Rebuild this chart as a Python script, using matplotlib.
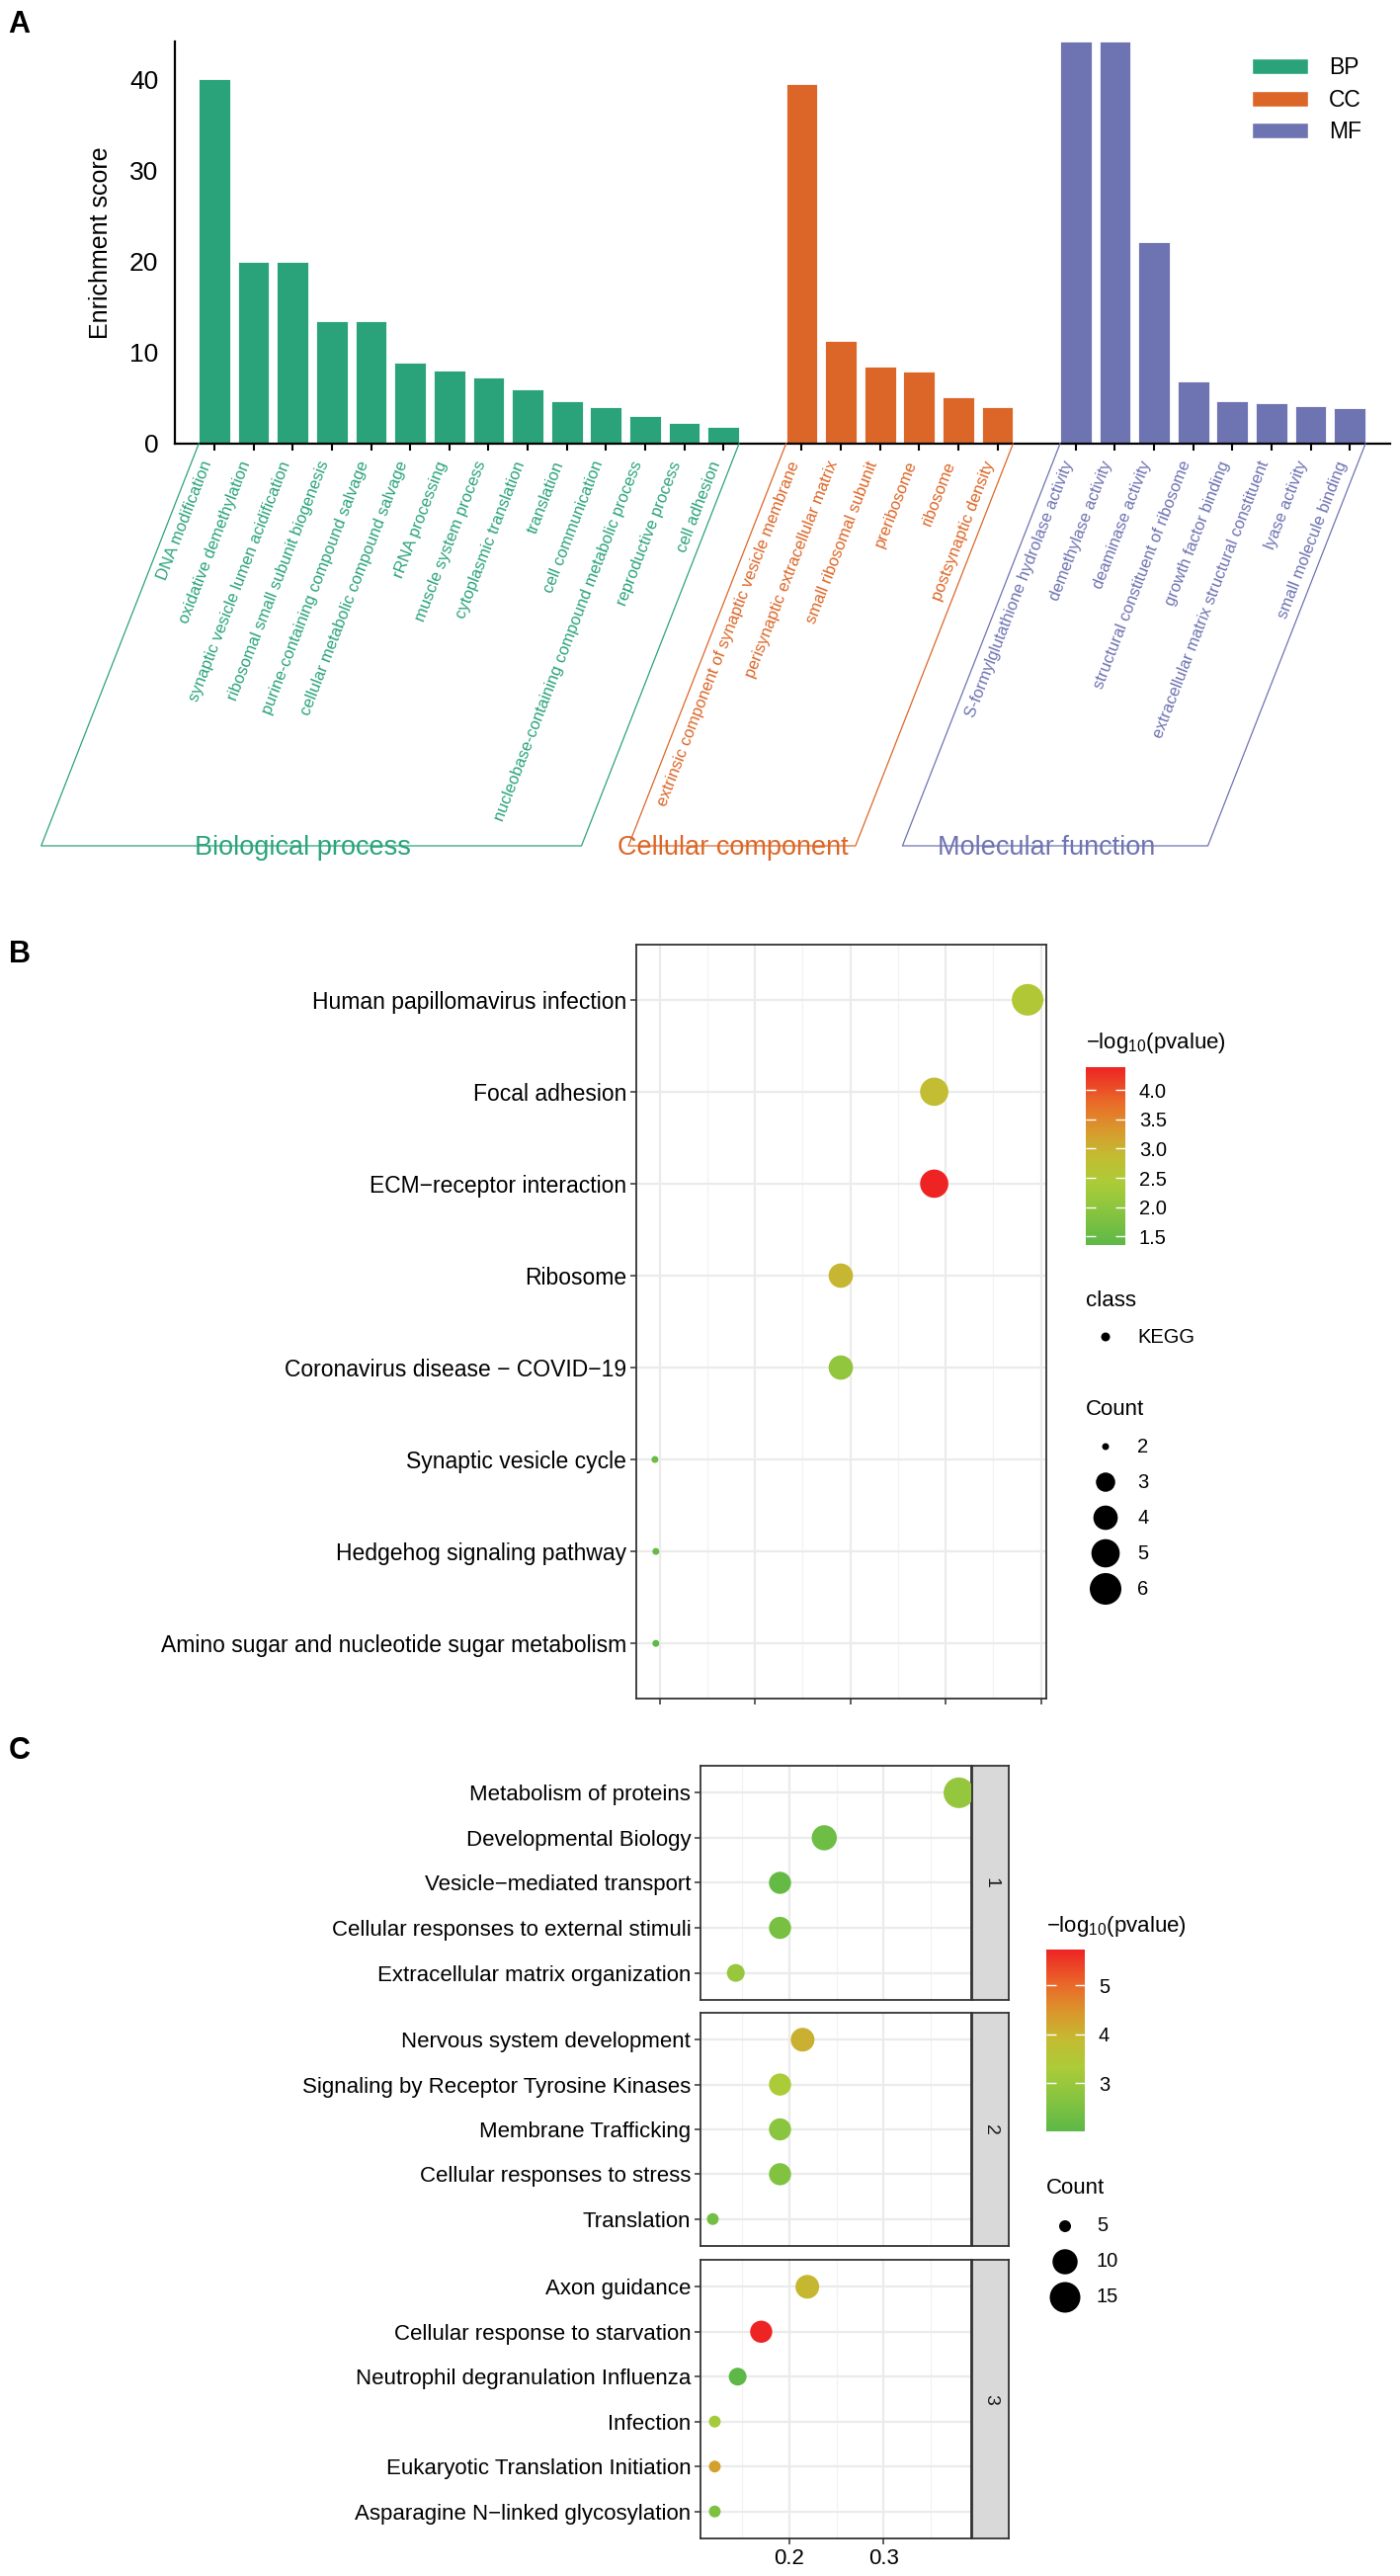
import numpy as np
import matplotlib
matplotlib.use("Agg")
import matplotlib.pyplot as plt
from matplotlib.patches import Patch
from matplotlib.lines import Line2D
from matplotlib.colors import LinearSegmentedColormap, Normalize
from matplotlib.cm import ScalarMappable

plt.rcParams['font.family'] = ['Liberation Sans', 'DejaVu Sans']
plt.rcParams['mathtext.default'] = 'regular'

W, H = 1417, 2607
fig = plt.figure(figsize=(W / 100, H / 100), dpi=100)

def rect(l, t, r, b):
    return [l / W, 1 - b / H, (r - l) / W, (b - t) / H]

# ---------------- data: panel A ----------------
bp_terms = ["DNA modification", "oxidative demethylation", "synaptic vesicle lumen acidification",
            "ribosomal small subunit biogenesis", "purine-containing compound salvage",
            "cellular metabolic compound salvage", "rRNA processing", "muscle system process",
            "cytoplasmic translation", "translation", "cell communication",
            "nucleobase-containing compound metabolic process", "reproductive process", "cell adhesion"]
bp_scores = [40.0, 20.0, 20.0, 13.4, 13.4, 8.9, 8.0, 7.3, 6.0, 4.7, 4.0, 3.0, 2.3, 1.8]
cc_terms = ["extrinsic component of synaptic vesicle membrane", "perisynaptic extracellular matrix",
            "small ribosomal subunit", "preribosome", "ribosome", "postsynaptic density"]
cc_scores = [39.5, 11.3, 8.5, 7.9, 5.1, 4.0]
mf_terms = ["S-formylglutathione hydrolase activity", "demethylase activity", "deaminase activity",
            "structural constituent of ribosome", "growth factor binding",
            "extracellular matrix structural constituent", "lyase activity", "small molecule binding"]
mf_scores = [44.1, 44.1, 22.1, 6.8, 4.7, 4.4, 4.1, 3.9]
go_groups = ["BP", "CC", "MF"]
go_group_titles = ["Biological process", "Cellular component", "Molecular function"]

# ---------------- data: panel B ----------------
kegg_terms = ["Human papillomavirus infection", "Focal adhesion", "ECM\u2212receptor interaction",
              "Ribosome", "Coronavirus disease \u2212 COVID\u221219", "Synaptic vesicle cycle",
              "Hedgehog signaling pathway", "Amino sugar and nucleotide sugar metabolism"]
kegg_ratio = [0.293, 0.244, 0.244, 0.195, 0.195, 0.0975, 0.098, 0.098]
kegg_logp = [2.55, 2.85, 4.39, 2.95, 2.05, 1.55, 1.45, 1.355]
kegg_count = [6, 5, 5, 4, 4, 2, 2, 2]
kegg_cb_ticks = [1.5, 2.0, 2.5, 3.0, 3.5, 4.0]
kegg_size_breaks = [2, 3, 4, 5, 6]

# ---------------- data: panel C ----------------
reac_terms = ["Metabolism of proteins", "Developmental Biology", "Vesicle\u2212mediated transport",
              "Cellular responses to external stimuli", "Extracellular matrix organization",
              "Nervous system development", "Signaling by Receptor Tyrosine Kinases",
              "Membrane Trafficking", "Cellular responses to stress", "Translation",
              "Axon guidance", "Cellular response to starvation", "Neutrophil degranulation Influenza",
              "Infection", "Eukaryotic Translation Initiation", "Asparagine N\u2212linked glycosylation"]
reac_cluster = [1, 1, 1, 1, 1, 2, 2, 2, 2, 2, 3, 3, 3, 3, 3, 3]
reac_ratio = [0.380, 0.237, 0.190, 0.190, 0.143, 0.214, 0.190, 0.190, 0.190, 0.1186,
              0.219, 0.170, 0.145, 0.1207, 0.1207, 0.1207]
reac_logp = [2.9, 2.3, 2.15, 2.45, 2.95, 4.05, 3.3, 2.75, 2.6, 2.4,
             3.95, 5.73, 2.01, 3.2, 4.3, 2.55]
reac_count = [15, 10, 8, 8, 6, 9, 8, 8, 8, 5, 9, 8, 6, 5, 5, 5]
reac_cb_ticks = [3, 4, 5]
reac_size_breaks = [5, 10, 15]

# ---------------- styles ----------------
go_colors = ["#2AA37B", "#DC6627", "#6E73B1"]
grad = LinearSegmentedColormap.from_list(
    "gr", [(0.0, "#5DB847"), (0.2, "#8BC53F"), (0.35, "#ACCB38"), (0.5, "#C3BC32"),
           (0.65, "#D9982C"), (0.8, "#E96B29"), (1.0, "#EE2424")])
GRID = "#EBEBEB"
BORDER = "#333333"

def gg_size(c, cmin, cmax, dmin, dmax):
    c = np.asarray(c, float)
    d = dmin + (dmax - dmin) * np.sqrt((c - cmin) / (cmax - cmin))
    return (d * 0.72) ** 2

def expand(vals, frac=0.05):
    lo, hi = min(vals), max(vals)
    r = hi - lo
    return lo - frac * r, hi + frac * r

# ================= Panel A =================
axA = fig.add_axes(rect(177, 42, 1407, 449))
groups = [(bp_terms, bp_scores), (cc_terms, cc_scores), (mf_terms, mf_scores)]
start = 0
group_pos = []
for terms, scores in groups:
    pos = np.arange(len(terms)) + start
    group_pos.append(pos)
    start = pos[-1] + 2
for gi, ((terms, scores), pos) in enumerate(zip(groups, group_pos)):
    axA.bar(pos, scores, width=0.8, color=go_colors[gi], edgecolor="white", linewidth=0.6,
            label=go_groups[gi], zorder=2)
axA.set_xlim(-1.01, 30.03)
axA.set_ylim(0, 44.15)
axA.spines[['top', 'right']].set_visible(False)
for s in ['left', 'bottom']:
    axA.spines[s].set_linewidth(1.6)
axA.set_yticks([0, 10, 20, 30, 40])
axA.tick_params(axis='y', length=0, pad=12, labelsize=19)
allpos = np.concatenate(group_pos)
axA.set_xticks(allpos)
axA.set_xticklabels([])
axA.tick_params(axis='x', length=5, width=1.5, direction='out')
axA.set_ylabel("Enrichment score", fontsize=18, labelpad=12)

ANG = 68.8
for gi, ((terms, scores), pos) in enumerate(zip(groups, group_pos)):
    for p, t in zip(pos, terms):
        axA.annotate(t, xy=(p, 0), xycoords=('data', 'axes fraction'), xytext=(-5, -13),
                     textcoords='offset points', rotation=ANG, rotation_mode='anchor',
                     ha='right', va='center', fontsize=12, color=go_colors[gi])

fig.canvas.draw()
y_axis_px = H - 449
y_bot_px = H - 856
dxs = (y_axis_px - y_bot_px) / np.tan(np.radians(68.6))
for gi, pos in enumerate(group_pos):
    xl = axA.transData.transform((pos[0] - 0.4, 0))[0]
    xr = axA.transData.transform((pos[-1] + 0.4, 0))[0]
    xs = np.array([xl, xl - dxs, xr - dxs, xr])
    ys = np.array([y_axis_px, y_bot_px, y_bot_px, y_axis_px])
    fig.add_artist(Line2D(xs / W, ys / H, transform=fig.transFigure, color=go_colors[gi], lw=0.9))
    cx = (xl + xr) / 2 - dxs - 9
    fig.text(cx / W, (y_bot_px - 2) / H, go_group_titles[gi], ha='center', va='center',
             fontsize=19.5, color=go_colors[gi])

axA.legend(handles=[Patch(facecolor=c, edgecolor='white', label=l) for c, l in zip(go_colors, go_groups)],
           loc='upper left', bbox_to_anchor=(1267 / W, 1 - 57 / H), bbox_transform=fig.transFigure,
           frameon=False, fontsize=16.5, handlelength=2.5, handleheight=0.7, labelspacing=0.42,
           handletextpad=0.9, borderpad=0, borderaxespad=0)

# panel letters
for lab, (x, y) in zip("ABC", [(8, 10), (9, 951), (9, 1757)]):
    fig.text(x / W, 1 - y / H, lab, fontsize=22, fontweight='bold', ha='left', va='top',
             family=['Liberation Sans Narrow', 'Liberation Sans'])

def style_dot_axes(ax):
    ax.set_facecolor('white')
    for s in ax.spines.values():
        s.set_color(BORDER)
        s.set_linewidth(1.3)
    ax.grid(which='major', color=GRID, lw=1.6, zorder=0)
    ax.grid(which='minor', axis='x', color='#F2F2F2', lw=0.9, zorder=0)
    ax.set_axisbelow(True)
    ax.tick_params(axis='both', which='major', length=4, width=1.1, color=BORDER, pad=3)
    ax.tick_params(axis='x', which='minor', length=0)

# ================= Panel B =================
axB = fig.add_axes(rect(644, 956, 1059, 1719))
ny = len(kegg_terms)
yB = np.arange(ny)
normB = Normalize(min(kegg_logp), max(kegg_logp))
axB.scatter(kegg_ratio, yB, s=gg_size(kegg_count, 2, 6, 7, 32), c=kegg_logp, cmap=grad, norm=normB,
            edgecolors='none', zorder=3)
axB.set_xlim(*expand(kegg_ratio))
axB.set_ylim(ny - 1 + 0.6, -0.6)
axB.set_yticks(yB)
axB.set_yticklabels(kegg_terms, fontsize=16.5)
axB.set_xticks([0.10, 0.15, 0.20, 0.25, 0.30])
axB.set_xticks([0.125, 0.175, 0.225, 0.275], minor=True)
axB.set_xticklabels([])
style_dot_axes(axB)

# legend B
caxB = fig.add_axes(rect(1099, 1080, 1139, 1260))
cbB = fig.colorbar(ScalarMappable(norm=normB, cmap=grad), cax=caxB, ticks=kegg_cb_ticks)
cbB.outline.set_visible(False)
caxB.tick_params(direction='in', color='white', length=7, width=1, left=True, right=True,
                 labelsize=14.5, pad=10)
caxB.set_yticklabels([f"{v:.1f}" for v in kegg_cb_ticks])
fig.text(1099 / W, 1 - 1055 / H, "\u2212log$_{10}$(pvalue)", fontsize=16, ha='left', va='center')
fig.text(1099 / W, 1 - 1316 / H, "class", fontsize=16, ha='left', va='center')
legB = fig.add_axes(rect(1090, 1335, 1250, 1630))
legB.set_xlim(1090, 1250)
legB.set_ylim(1630, 1335)
legB.axis('off')
legB.scatter([1119], [1353], s=(9 * 0.72) ** 2, color='black', edgecolors='none')
legB.text(1151, 1353, "KEGG", fontsize=14.5, va='center')
fig.text(1099 / W, 1 - 1427 / H, "Count", fontsize=16, ha='left', va='center')
yk = 1464 + 36 * np.arange(len(kegg_size_breaks))
legB.scatter(np.full(len(yk), 1119), yk, s=gg_size(kegg_size_breaks, 2, 6, 7, 32), color='black',
             edgecolors='none', clip_on=False)
for yy, b in zip(yk, kegg_size_breaks):
    legB.text(1151, yy, str(b), fontsize=14.5, va='center')

# ================= Panel C =================
clusters = sorted(set(reac_cluster))
panel_px = [(1787, 2024), (2037, 2273), (2287, 2569)]
normC = Normalize(min(reac_logp), max(reac_logp))
xlimC = expand(reac_ratio)
rt = np.array(reac_terms, dtype=object)
rx = np.array(reac_ratio)
rl = np.array(reac_logp)
rc = np.array(reac_count)
rcl = np.array(reac_cluster)
for k, (t, b) in zip(clusters, panel_px):
    m = rcl == k
    ax = fig.add_axes(rect(709, t, 983, b))
    n = m.sum()
    yy = np.arange(n)
    ax.scatter(rx[m], yy, s=gg_size(rc[m], 5, 15, 12, 31), c=rl[m], cmap=grad, norm=normC,
               edgecolors='none', zorder=3)
    ax.set_xlim(*xlimC)
    ax.set_ylim(n - 1 + 0.6, -0.6)
    ax.set_yticks(yy)
    ax.set_yticklabels(rt[m], fontsize=16)
    ax.set_xticks([0.2, 0.3])
    ax.set_xticks([0.15, 0.25, 0.35], minor=True)
    style_dot_axes(ax)
    if k != clusters[-1]:
        ax.tick_params(axis='x', which='major', length=0, labelbottom=False)
    else:
        ax.set_xticklabels(["0.2", "0.3"], fontsize=16)
    sax = fig.add_axes(rect(984, t, 1021, b))
    sax.set_facecolor('#D9D9D9')
    sax.set_xticks([])
    sax.set_yticks([])
    for s in sax.spines.values():
        s.set_color(BORDER)
        s.set_linewidth(1.3)
    sax.text(0.5, 0.5, str(k), rotation=270, ha='center', va='center', fontsize=14,
             color='#1A1A1A', transform=sax.transAxes)

# legend C
caxC = fig.add_axes(rect(1059, 1973, 1098, 2157))
cbC = fig.colorbar(ScalarMappable(norm=normC, cmap=grad), cax=caxC, ticks=reac_cb_ticks)
cbC.outline.set_visible(False)
caxC.tick_params(direction='in', color='white', length=7, width=1, left=True, right=True,
                 labelsize=14.5, pad=10)
fig.text(1059 / W, 1 - 1950 / H, "\u2212log$_{10}$(pvalue)", fontsize=16, ha='left', va='center')
fig.text(1059 / W, 1 - 2215 / H, "Count", fontsize=16, ha='left', va='center')
legC = fig.add_axes(rect(1050, 2235, 1200, 2345))
legC.set_xlim(1050, 1200)
legC.set_ylim(2345, 2235)
legC.axis('off')
yc = 2253 + 36 * np.arange(len(reac_size_breaks))
legC.scatter(np.full(len(yc), 1078), yc, s=gg_size(reac_size_breaks, 5, 15, 12, 31), color='black',
             edgecolors='none', clip_on=False)
for yy, b in zip(yc, reac_size_breaks):
    legC.text(1110, yy, str(b), fontsize=14.5, va='center')

fig.savefig("out.png", dpi=100, facecolor='white')
